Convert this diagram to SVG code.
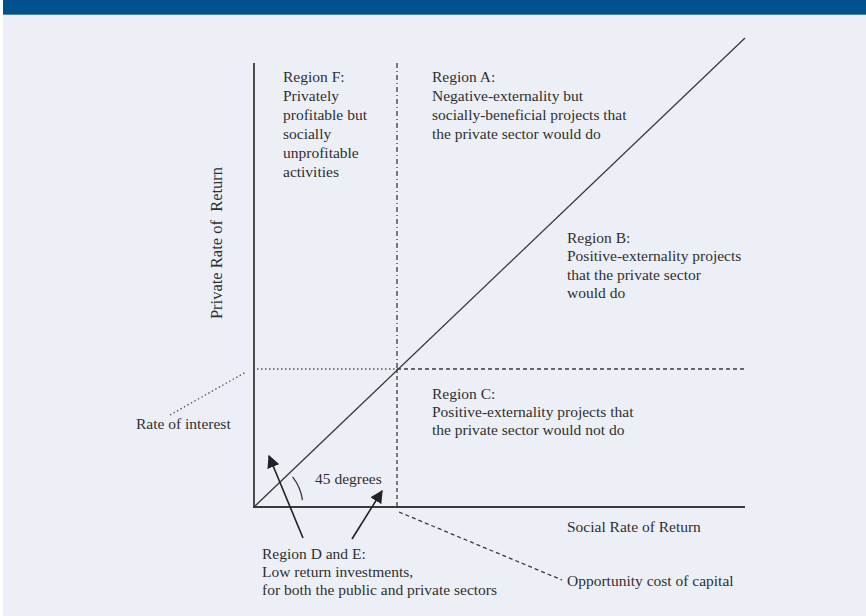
<svg xmlns="http://www.w3.org/2000/svg" width="866" height="616" viewBox="0 0 866 616">
<defs>
<style>
text{font-family:"Liberation Serif","Times New Roman",serif;font-size:15.5px;fill:#2f2f2f}
.big{font-size:16.5px;white-space:pre}
.ax{stroke:#3a3a3a;stroke-width:1.8;fill:none}
.ln{stroke:#3a3a3a;stroke-width:1.3;fill:none}
.dd{stroke:#3a3a3a;stroke-width:1.3;stroke-dasharray:5 3 1 3;fill:none}
.da{stroke:#3a3a3a;stroke-width:1.3;stroke-dasharray:4 3;fill:none}
.dt{stroke:#555;stroke-width:1.3;stroke-dasharray:1.5 2.5;fill:none}
.ar{stroke:#222;stroke-width:1.6;fill:none;marker-end:url(#ah)}
</style>
<marker id="ah" viewBox="0 0 10 10" refX="9" refY="5" markerWidth="8" markerHeight="8" markerUnits="strokeWidth" orient="auto">
<path d="M0,0 L10,5 L0,10 Z" fill="#222"/>
</marker>
</defs>
<rect x="0" y="0" width="866" height="616" fill="#ECEFF6"/>
<rect x="0" y="0" width="3" height="616" fill="#ffffff"/>
<rect x="3" y="0" width="863" height="14" fill="#01528C"/>
<rect x="3" y="14" width="863" height="1" fill="#4A86BB"/>

<g id="connectors">
<line class="ax" x1="254" y1="63" x2="254" y2="507"/>
<line class="ax" x1="253" y1="507" x2="745" y2="507"/>
<line class="ln" x1="254" y1="507" x2="745" y2="38"/>
<line class="dd" x1="397" y1="63" x2="397" y2="369"/>
<line class="da" x1="397" y1="369" x2="397" y2="507"/>
<line class="dt" x1="257" y1="369" x2="397" y2="369"/>
<line class="da" x1="397" y1="369" x2="745" y2="369"/>
<line class="dt" x1="170" y1="415" x2="246" y2="372"/>
<line class="da" x1="399" y1="512" x2="562" y2="580"/>
<path class="ln" d="M302.5,500.2 A49,49 0 0 0 292.6,476.8"/>
<line class="ar" x1="303" y1="538" x2="269" y2="456"/>
<line class="ar" x1="352" y1="539" x2="382" y2="491"/>
</g>

<g id="axis-y-label"><text class="big" transform="translate(222,243) rotate(-90)" text-anchor="middle">Private Rate of  Return</text></g>
<g id="axis-x-label"><text x="567" y="532">Social Rate of Return</text></g>
<g id="rate-of-interest"><text x="136" y="429">Rate of interest</text></g>
<g id="angle-label"><text x="315" y="484">45 degrees</text></g>
<g id="opportunity-cost"><text x="567" y="586">Opportunity cost of capital</text></g>

<g id="region-f">
<text x="283" y="82">Region F:</text>
<text x="283" y="101">Privately</text>
<text x="283" y="120">profitable but</text>
<text x="283" y="139">socially</text>
<text x="283" y="158">unprofitable</text>
<text x="283" y="177">activities</text>
</g>
<g id="region-a">
<text x="432" y="82">Region A:</text>
<text x="432" y="101">Negative-externality but</text>
<text x="432" y="120">socially-beneficial projects that</text>
<text x="432" y="139">the private sector would do</text>
</g>
<g id="region-b">
<text x="567" y="243">Region B:</text>
<text x="567" y="261">Positive-externality projects</text>
<text x="567" y="280">that the private sector</text>
<text x="567" y="298">would do</text>
</g>
<g id="region-c">
<text x="432" y="399">Region C:</text>
<text x="432" y="417">Positive-externality projects that</text>
<text x="432" y="435">the private sector would not do</text>
</g>
<g id="region-de">
<text x="262" y="559">Region D and E:</text>
<text x="262" y="577">Low return investments,</text>
<text x="262" y="595">for both the public and private sectors</text>
</g>
</svg>
